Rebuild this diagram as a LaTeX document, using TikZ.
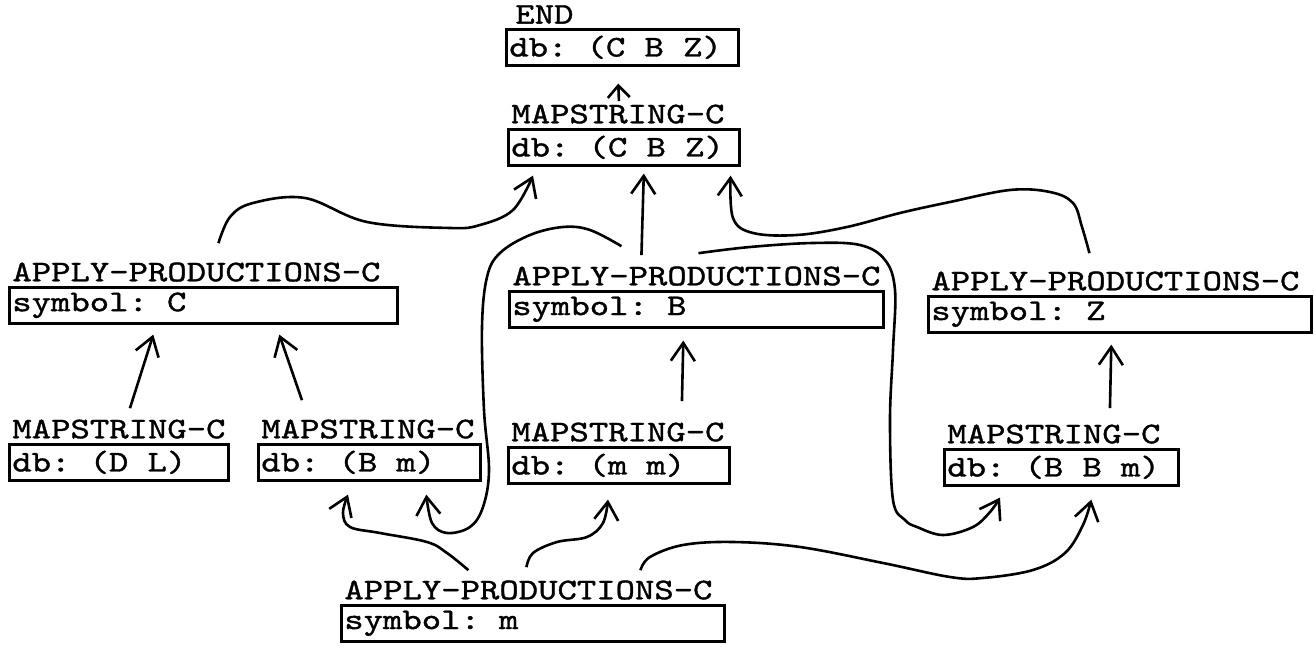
\documentclass[tikz,border=0pt]{standalone}
\usepackage{fontspec}
\newfontfamily\typer{lmmono10-regular}[Extension=.otf,FakeStretch=1.23,FakeBold=1.2]
\usetikzlibrary{positioning,arrows.meta}
\newcommand\gap{\hskip 9.6pt\relax}

\begin{document}
\begin{tikzpicture}[x=0.5pt, y=-0.5pt,
    font=\typer\fontsize{15}{17}\selectfont,
    slot/.style={draw, line width=1.3pt, anchor=north west, inner xsep=1.5pt, inner ysep=0pt, minimum height=18pt, align=left},
    head/.style={inner sep=0pt},
    link/.style={line width=1.3pt, -{Straight Barb[length=9pt,width=12pt]}}]
    \useasboundingbox (0,0) rectangle (1314,647);

    % frames
    \node[slot, text width=113pt] (end) at (505,28) {db:\gap(C\gap B\gap Z)};
    \node[head, above right=2pt and 5pt of end.north west] (endh) {END};
    \node[slot, text width=112.5pt] (map) at (507,128) {db:\gap(C\gap B\gap Z)};
    \node[head, above right=2pt and 2pt of map.north west] (maph) {MAPSTRING-C};

    \node[slot, text width=191pt] (apC) at (8,286) {symbol:\gap C};
    \node[head, above right=2pt and 2pt of apC.north west] (apCh) {APPLY-PRODUCTIONS-C};
    \node[slot, text width=184pt] (apB) at (508,290) {symbol:\gap B};
    \node[head, above right=2pt and 2pt of apB.north west] (apBh) {APPLY-PRODUCTIONS-C};
    \node[slot, text width=188.5pt] (apZ) at (927,295) {symbol:\gap Z};
    \node[head, above right=2pt and 2pt of apZ.north west] (apZh) {APPLY-PRODUCTIONS-C};

    \node[slot, text width=106.5pt] (msDL) at (8,443) {db:\gap(D\gap L)};
    \node[head, above right=2pt and 2pt of msDL.north west] (msDLh) {MAPSTRING-C};
    \node[slot, text width=108pt] (msBm) at (257,443) {db:\gap(B\gap m)};
    \node[head, above right=2pt and 2pt of msBm.north west] (msBmh) {MAPSTRING-C};
    \node[slot, text width=107.5pt] (msmm) at (507,446) {db:\gap(m\gap m)};
    \node[head, above right=2pt and 2pt of msmm.north west] (msmmh) {MAPSTRING-C};
    \node[slot, text width=114pt] (msBBm) at (943,448) {db:\gap(B\gap B\gap m)};
    \node[head, above right=2pt and 2pt of msBBm.north west] (msBBmh) {MAPSTRING-C};

    \node[slot, text width=188.5pt] (apm) at (340,604) {symbol:\gap m};
    \node[head, above right=2pt and 2pt of apm.north west] (apmh) {APPLY-PRODUCTIONS-C};

    % straight links
    \draw[line width=1.3pt, -{Straight Barb[length=6pt,width=11pt]}] ([shift={(1,-3)}]maph.north) -- ([shift={(-4,17)}]end.south);
    \draw[link] ([shift={(-55,-11)}]apBh.north) -- ([shift={(20,7)}]map.south);
    \draw[link] ([shift={(11,-11)}]msDLh.north) -- ([shift={(-50,10)}]apC.south);
    \draw[link] ([shift={(-66,-19)}]msBmh.north) -- ([shift={(76,10)}]apC.south);
    \draw[link] ([shift={(64,-21)}]msmmh.north) -- ([shift={(-13,12)}]apB.south);
    \draw[link] ([shift={(56,-16)}]msBBmh.north) -- ([shift={(-8.5,11)}]apZ.south);

    % curved links
    \draw[link] plot[smooth, tension=0.6] coordinates {([shift={(22,-19)}]apCh.north) (230,217) (253,203) (305,198) (367,222) (450,228) (480,225) (513,210) ([shift={(26,9)}]map.south west)};
    \draw[link] plot[smooth, tension=0.6] coordinates {([shift={(-26,-18)}]apZh.north) (1082,227) (1073,203) (1050,192) (1010,190) (950,202) (900,213) (847,227) (797,235) (753,233) (733,218) ([shift={(-10,9)}]map.south east)};
    \draw[link] plot[smooth, tension=0.6] coordinates {([shift={(-75,-20)}]apBh.north) (590,230) (563,227) (530,235) (500,253) (487,277) (482,327) (484,410) (489,470) (483,507) (470,527) (447,533) (432,523) ([shift={(57,13)}]msBm.south)};
    \draw[link] plot[smooth, tension=0.6] coordinates {([shift={(2,-13)}]apBh.north) (750,247) (813,243) (860,245) (885,260) (895,290) (893,350) (890,420) (893,500) (905,520) (917,527) (943,535) (973,527) (990,512) ([shift={(57,11)}]msBBm.south west)};
    \draw[link] plot[smooth, tension=0.6] coordinates {([shift={(-60,-10)}]apmh.north) (447,553) (427,542) (380,533) (350,527) (343,513) ([shift={(91,13)}]msBm.south west)};
    \draw[link] plot[smooth, tension=0.6] coordinates {([shift={(-2,-13)}]apmh.north) (533,553) (557,542) (587,537) (603,523) ([shift={(101,15)}]msmm.south west)};
    \draw[link] plot[smooth, tension=0.6] coordinates {([shift={(112,-10)}]apmh.north) (650,557) (683,545) (733,542) (800,547) (883,563) (950,577) (983,578) (1033,570) (1065,553) (1083,525) ([shift={(30,13)}]msBBm.south)};
\end{tikzpicture}
\end{document}
